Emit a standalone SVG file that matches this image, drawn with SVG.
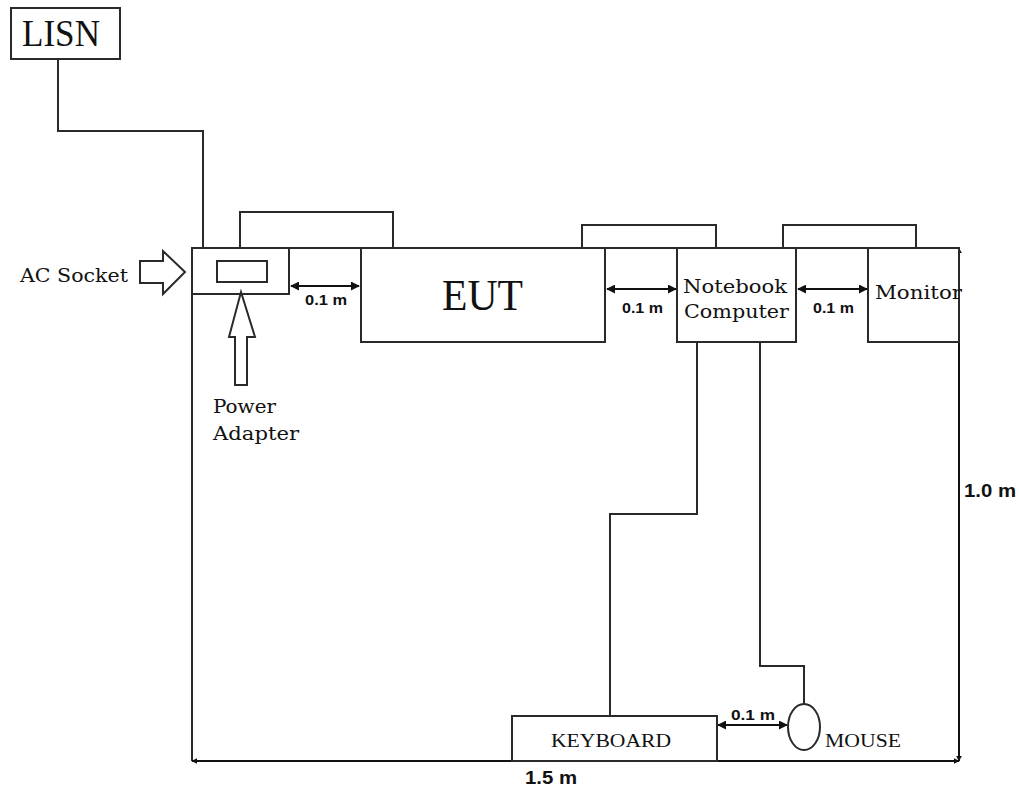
<svg xmlns="http://www.w3.org/2000/svg" width="1019" height="790" viewBox="0 0 1019 790">
<defs>
<style>
.ln{fill:none;stroke:#2a2a2a;stroke-width:2}
.bx{fill:#fff;stroke:#2a2a2a;stroke-width:2}
.dim{fill:none;stroke:#111;stroke-width:2}
.tbl{fill:none;stroke:#2a2a2a;stroke-width:2}
.serif{font-family:"Liberation Serif","Times New Roman",serif;fill:#111}
.lbl{font-family:"DejaVu Serif","Liberation Serif",serif;font-size:19px;fill:#111}
.dl{font-family:"Liberation Sans",Arial,sans-serif;font-weight:bold;fill:#111}
</style>
<marker id="ah" viewBox="0 0 10 10" refX="9" refY="5" markerWidth="9" markerHeight="9" markerUnits="userSpaceOnUse" orient="auto-start-reverse">
<path d="M0,0 L10,5 L0,10 z" fill="#111"/>
</marker>
<marker id="sh" viewBox="0 0 10 10" refX="9" refY="5" markerWidth="6" markerHeight="6" markerUnits="userSpaceOnUse" orient="auto-start-reverse">
<path d="M0,0 L10,5 L0,10 z" fill="#111"/>
</marker>
</defs>
<rect width="1019" height="790" fill="#fff"/>

<g id="connectors">
<polyline class="ln" points="58,59 58,131 203,131 203,248"/>
<polyline class="ln" points="240,261 240,212 393,212 393,248"/>
<polyline class="ln" points="582,248 582,225 716,225 716,248"/>
<polyline class="ln" points="783,248 783,225 916,225 916,248"/>
<polyline class="ln" points="697,342 697,514 610,514 610,716"/>
<polyline class="ln" points="760,342 760,666 804,666 804,704"/>
</g>

<g id="table">
<polyline class="tbl" points="959,248 192,248 192,761"/>
</g>

<g id="dimensions">
<line class="dim" x1="291" y1="286" x2="359" y2="286" marker-start="url(#ah)" marker-end="url(#ah)"/>
<line class="dim" x1="607" y1="289" x2="676" y2="289" marker-start="url(#ah)" marker-end="url(#ah)"/>
<line class="dim" x1="798" y1="289" x2="867" y2="289" marker-start="url(#ah)" marker-end="url(#ah)"/>
<line class="dim" x1="718" y1="725" x2="787" y2="725" marker-start="url(#ah)" marker-end="url(#ah)"/>
<line class="dim" x1="959" y1="248" x2="959" y2="761" marker-start="url(#sh)" marker-end="url(#sh)"/>
<line class="dim" x1="192" y1="761" x2="959" y2="761" marker-start="url(#sh)" marker-end="url(#sh)"/>
<text class="dl" x="305" y="305" font-size="15" textLength="42" lengthAdjust="spacingAndGlyphs">0.1 m</text>
<text class="dl" x="622" y="313" font-size="15" textLength="41" lengthAdjust="spacingAndGlyphs">0.1 m</text>
<text class="dl" x="813" y="313" font-size="15" textLength="41" lengthAdjust="spacingAndGlyphs">0.1 m</text>
<text class="dl" x="731" y="720" font-size="15" textLength="44" lengthAdjust="spacingAndGlyphs">0.1 m</text>
<text class="dl" x="964" y="497" font-size="19" textLength="52" lengthAdjust="spacingAndGlyphs">1.0 m</text>
<text class="dl" x="525" y="784" font-size="19" textLength="52" lengthAdjust="spacingAndGlyphs">1.5 m</text>
</g>

<g id="lisn">
<rect class="bx" x="11" y="8" width="109" height="51"/>
<text class="serif" x="22" y="46" font-size="37" textLength="78" lengthAdjust="spacingAndGlyphs">LISN</text>
</g>

<g id="ac-socket">
<polygon class="bx" points="140,261 163,261 163,251 185,272 163,294 163,283 140,283"/>
<text class="lbl" x="20" y="282" textLength="108" lengthAdjust="spacingAndGlyphs">AC Socket</text>
</g>

<g id="socket-box">
<rect class="bx" x="192" y="248" width="97" height="46"/>
<rect class="bx" x="217" y="261" width="50" height="21"/>
</g>

<g id="power-adapter">
<polygon class="bx" points="241,292 255,337 247,337 247,385 235,385 235,337 229,337"/>
<text class="lbl" x="213" y="413" textLength="63" lengthAdjust="spacingAndGlyphs">Power</text>
<text class="lbl" x="213" y="440" textLength="86" lengthAdjust="spacingAndGlyphs">Adapter</text>
</g>

<g id="eut">
<rect class="bx" x="361" y="248" width="244" height="94"/>
<text class="serif" x="442" y="310" font-size="44" textLength="81" lengthAdjust="spacingAndGlyphs">EUT</text>
</g>

<g id="notebook">
<rect class="bx" x="677" y="248" width="119" height="94"/>
<text class="lbl" x="683" y="293" textLength="104" lengthAdjust="spacingAndGlyphs">Notebook</text>
<text class="lbl" x="684" y="318" textLength="105" lengthAdjust="spacingAndGlyphs">Computer</text>
</g>

<g id="monitor">
<rect class="bx" x="868" y="248" width="91" height="94"/>
<text class="lbl" x="875" y="299" textLength="87" lengthAdjust="spacingAndGlyphs">Monitor</text>
</g>

<g id="keyboard">
<rect class="bx" x="512" y="716" width="205" height="45"/>
<text class="serif" x="551" y="747" font-size="19" textLength="120" lengthAdjust="spacingAndGlyphs">KEYBOARD</text>
</g>

<g id="mouse">
<ellipse class="bx" cx="804" cy="727" rx="16" ry="23"/>
<text class="serif" x="825" y="747" font-size="19" textLength="76" lengthAdjust="spacingAndGlyphs">MOUSE</text>
</g>
</svg>
